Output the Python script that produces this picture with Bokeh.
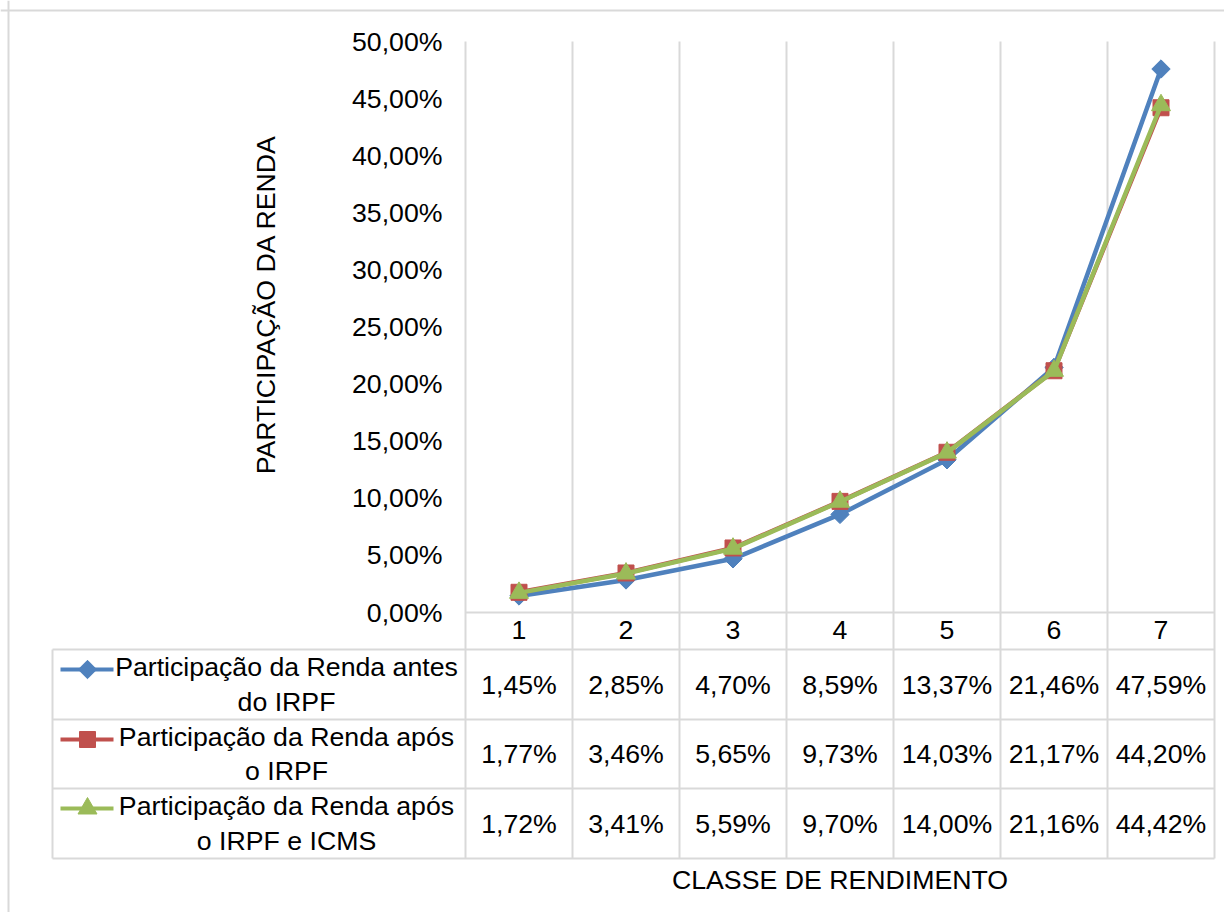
import math
from bokeh.plotting import figure
from bokeh.models import Range1d, FixedTicker, CustomJSTickFormatter, Label, Span, ColumnDataSource
from bokeh.embed import file_html
from bokeh.resources import INLINE
from bokeh.core.properties import value

# ---------------- data ----------------
categories = [1, 2, 3, 4, 5, 6, 7]
renda_antes_irpf = [1.45, 2.85, 4.70, 8.59, 13.37, 21.46, 47.59]
renda_apos_irpf = [1.77, 3.46, 5.65, 9.73, 14.03, 21.17, 44.20]
renda_apos_irpf_icms = [1.72, 3.41, 5.59, 9.70, 14.00, 21.16, 44.42]
series_labels = [
    "Participação da Renda antes\ndo IRPF",
    "Participação da Renda após\no IRPF",
    "Participação da Renda após\no IRPF e ICMS",
]
y_ticks = [0, 5, 10, 15, 20, 25, 30, 35, 40, 45, 50]
y_axis_title = "PARTICIPAÇÃO DA RENDA"
x_axis_title = "CLASSE DE RENDIMENTO"

# ---------------- styling / layout (image pixels) ----------------
FONT = "Liberation Sans"
FS = "26.7px"
GRID = "#d9d9d9"
COLORS = ["#4F81BD", "#C0504D", "#9BBB59"]
MARKERS = [("square", 13, math.pi / 4), ("square", 16, 0.0), ("triangle", 19, 0.0)]

W, H = 1224, 912
BORDER_L, BORDER_T = 8, 10
PLOT_L, PLOT_R = 465, 1214
PLOT_T, PLOT_B = 41, 612
ROW_LINES = [649, 719, 788, 858]
TABLE_L = 52
LEG_X0, LEG_X1, LEG_MX = 60, 113, 87
LEG_TXT_X = 286

xu = (PLOT_R - PLOT_L) / len(categories)
yu = (PLOT_B - PLOT_T) / (y_ticks[-1] - y_ticks[0])


def dx(px):
    return 0.5 + (px - PLOT_L) / xu


def dy(py):
    return (PLOT_B - py) / yu


p = figure(
    width=W, height=H,
    x_range=Range1d(dx(0), dx(W)),
    y_range=Range1d(dy(H), dy(0)),
    output_backend="svg", toolbar_location=None,
    min_border_left=0, min_border_right=0, min_border_top=0, min_border_bottom=0,
    background_fill_color="white", border_fill_color="white",
    outline_line_color=None,
)
p.xgrid.visible = False
p.ygrid.visible = False

# outer chart border (top and left visible in the reference)
p.add_layout(Span(location=dy(BORDER_T), dimension="width", line_color=GRID, line_width=2))
p.add_layout(Span(location=dx(BORDER_L), dimension="height", line_color=GRID, line_width=2))

# axes
yax = p.yaxis[0]
yax.fixed_location = 0.5
yax.ticker = FixedTicker(ticks=y_ticks)
yax.formatter = CustomJSTickFormatter(code="return tick.toFixed(2).replace('.', ',') + '%';")
yax.axis_line_color = None
yax.major_tick_line_color = None
yax.minor_tick_line_color = None
yax.major_tick_out = 0
yax.major_tick_in = 0
yax.major_label_standoff = 23
yax.major_label_text_font = FONT
yax.major_label_text_font_size = FS
yax.major_label_text_color = "black"

xax = p.xaxis[0]
xax.fixed_location = 0
xax.ticker = FixedTicker(ticks=categories)
xax.axis_line_color = None
xax.major_tick_line_color = None
xax.minor_tick_line_color = None
xax.major_tick_out = 0
xax.major_tick_in = 0
xax.major_label_standoff = 8
xax.major_label_text_font = FONT
xax.major_label_text_font_size = FS
xax.major_label_text_color = "black"

# grid / table lines
n = len(categories)
vx = [0.5 + i for i in range(n + 1)]
p.segment(x0=vx, y0=[y_ticks[-1]] * len(vx), x1=vx, y1=[dy(ROW_LINES[-1])] * len(vx),
          line_color=GRID, line_width=2)
hy = [dy(r) for r in ROW_LINES]
p.segment(x0=[dx(TABLE_L)] * len(hy), y0=hy, x1=[n + 0.5] * len(hy), y1=hy,
          line_color=GRID, line_width=2)
p.segment(x0=[0.5], y0=[0], x1=[n + 0.5], y1=[0], line_color=GRID, line_width=2)
p.segment(x0=[dx(TABLE_L)], y0=[dy(ROW_LINES[0])], x1=[dx(TABLE_L)], y1=[dy(ROW_LINES[-1])],
          line_color=GRID, line_width=2)

# series
all_series = [renda_antes_irpf, renda_apos_irpf, renda_apos_irpf_icms]
row_tops = ROW_LINES[:-1]
for k, vals in enumerate(all_series):
    mk, sz, ang = MARKERS[k]
    p.line(categories, vals, line_color=COLORS[k], line_width=4.5)
    p.scatter(categories, vals, marker=mk, size=sz, angle=ang,
              fill_color=COLORS[k], line_color=COLORS[k])
    # data table row
    rc = dy((row_tops[k] + ROW_LINES[k + 1]) / 2)
    src = ColumnDataSource(dict(
        x=categories, y=[rc] * n,
        t=[f"{v:.2f}".replace(".", ",") + "%" for v in vals]))
    p.text(x="x", y="y", text="t", source=src, text_font=value(FONT), text_font_size=FS,
           text_align="center", text_baseline="middle", text_color="black")
    # legend key
    ly = dy(row_tops[k] + 20)
    p.line([dx(LEG_X0), dx(LEG_X1)], [ly, ly], line_color=COLORS[k], line_width=4)
    p.scatter([dx(LEG_MX)], [ly], marker=mk, size=sz, angle=ang,
              fill_color=COLORS[k], line_color=COLORS[k])
    p.text(x=[dx(LEG_TXT_X)], y=[rc], text=[series_labels[k]], text_font=value(FONT),
           text_font_size=FS, text_align="center", text_baseline="middle",
           text_color="black", text_line_height=1.15)

# axis titles
p.add_layout(Label(x=dx(265), y=dy(304), text=y_axis_title, angle=math.pi / 2,
                   text_align="center", text_baseline="middle", text_font=FONT,
                   text_font_size=FS, text_color="black"))
p.add_layout(Label(x=dx((PLOT_L + PLOT_R) / 2), y=dy(879), text=x_axis_title,
                   text_align="center", text_baseline="middle", text_font=FONT,
                   text_font_size=FS, text_color="black"))

open("out.html", "w").write(file_html(p, INLINE))
